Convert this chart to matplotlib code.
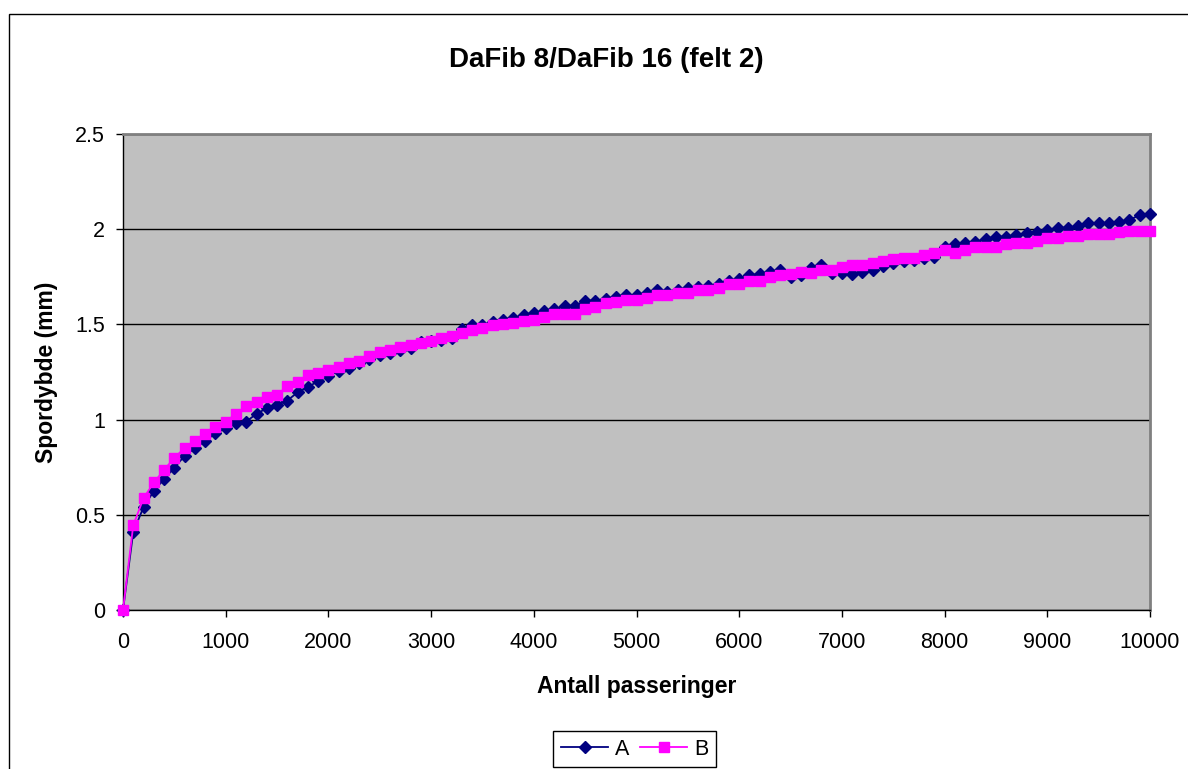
import matplotlib
matplotlib.use("Agg")
import matplotlib.pyplot as plt
from matplotlib.patches import Rectangle
from matplotlib.ticker import FuncFormatter, MultipleLocator

# passes, every 100 from 0 to 10000
passes = list(range(0, 10001, 100))

# series A (navy diamonds), rut depth in mm
depth_a = [
    0.0, 0.41, 0.54, 0.625, 0.688, 0.747, 0.81, 0.85, 0.888, 0.928,
    0.954, 0.98, 0.99, 1.03, 1.06, 1.077, 1.10, 1.143, 1.17, 1.203,
    1.229, 1.255, 1.269, 1.296, 1.317, 1.339, 1.348, 1.366, 1.374, 1.405,
    1.415, 1.42, 1.43, 1.474, 1.497, 1.497, 1.514, 1.525, 1.535, 1.55,
    1.562, 1.57, 1.581, 1.598, 1.598, 1.625, 1.625, 1.633, 1.646, 1.654,
    1.654, 1.663, 1.681, 1.669, 1.681, 1.69, 1.698, 1.70, 1.712, 1.73,
    1.738, 1.758, 1.766, 1.775, 1.784, 1.75, 1.76, 1.794, 1.813, 1.768,
    1.768, 1.765, 1.777, 1.786, 1.807, 1.821, 1.835, 1.838, 1.847, 1.856,
    1.905, 1.922, 1.926, 1.935, 1.95, 1.961, 1.961, 1.97, 1.978, 1.987,
    1.996, 2.008, 2.008, 2.017, 2.031, 2.031, 2.031, 2.04, 2.048, 2.075,
    2.08,
]

# series B (magenta squares)
depth_b = [
    0.0, 0.446, 0.587, 0.67, 0.735, 0.80, 0.85, 0.888, 0.924, 0.963,
    0.99, 1.03, 1.07, 1.094, 1.12, 1.13, 1.175, 1.199, 1.234, 1.243,
    1.26, 1.278, 1.299, 1.308, 1.334, 1.357, 1.366, 1.383, 1.392, 1.404,
    1.414, 1.43, 1.441, 1.453, 1.47, 1.48, 1.497, 1.50, 1.509, 1.518,
    1.523, 1.54, 1.552, 1.557, 1.557, 1.581, 1.59, 1.61, 1.62, 1.628,
    1.628, 1.637, 1.654, 1.654, 1.663, 1.667, 1.681, 1.683, 1.692, 1.71,
    1.712, 1.728, 1.728, 1.747, 1.76, 1.765, 1.777, 1.768, 1.786, 1.786,
    1.803, 1.812, 1.812, 1.824, 1.835, 1.842, 1.85, 1.85, 1.864, 1.873,
    1.891, 1.873, 1.891, 1.905, 1.908, 1.908, 1.92, 1.929, 1.929, 1.94,
    1.952, 1.955, 1.964, 1.964, 1.973, 1.973, 1.973, 1.987, 1.992, 1.992,
    1.992,
]

plt.rcParams["font.family"] = ["Liberation Sans", "DejaVu Sans"]

W, H = 1188, 769
fig = plt.figure(figsize=(W / 100, H / 100), dpi=100)
fig.patch.set_facecolor("white")

# chart-area border (runs off the right and bottom edges like the original)
fig.patches.append(Rectangle((9 / W, -0.1), 1.2, (H - 14) / H + 0.1,
                             transform=fig.transFigure, fill=False,
                             edgecolor="black", linewidth=1.0))

ax = fig.add_axes([123 / W, 1 - 610 / H, (1150 - 123) / W, (610 - 134) / H])
ax.set_facecolor("#C0C0C0")

ax.plot(passes, depth_a, color="#000080", marker="D", markersize=6.2,
        linewidth=1.3, label="A", zorder=3, clip_on=False)
ax.plot(passes, depth_b, color="#FF00FF", marker="s", markersize=7.3,
        linewidth=1.3, label="B", zorder=4, clip_on=False)

ax.set_xlim(0, 10000)
ax.set_ylim(0, 2.5)
ax.xaxis.set_major_locator(MultipleLocator(1000))
ax.yaxis.set_major_locator(MultipleLocator(0.5))
ax.yaxis.set_major_formatter(FuncFormatter(lambda v, _: f"{v:g}"))
ax.grid(axis="y", color="black", linewidth=1.0, zorder=1)
ax.set_axisbelow(True)

for side in ("top", "right"):
    ax.spines[side].set_color("#808080")
    ax.spines[side].set_linewidth(2.0)
for side in ("left", "bottom"):
    ax.spines[side].set_color("black")
    ax.spines[side].set_linewidth(1.0)

ax.tick_params(axis="both", direction="out", length=5, width=1,
               labelsize=15.5, colors="black")
ax.tick_params(axis="x", pad=11)
ax.tick_params(axis="y", pad=8)

ax.set_xlabel("Antall passeringer", fontsize=16.5, fontweight="bold", labelpad=16)
ax.set_ylabel("Spordybde (mm)", fontsize=16.5, fontweight="bold", labelpad=12)

fig.text(606 / W, 1 - 60 / H, "DaFib 8/DaFib 16 (felt 2)", ha="center",
         va="center", fontsize=20, fontweight="bold")

fig.legend(loc="upper center", bbox_to_anchor=(634.5 / W, 1 - 731 / H), ncol=2,
           fontsize=15.5, frameon=True, fancybox=False, edgecolor="black",
           framealpha=1, handlelength=2.2, handletextpad=0.3, columnspacing=0.5,
           borderpad=0.35, borderaxespad=0)

fig.savefig("out.png", dpi=100)
